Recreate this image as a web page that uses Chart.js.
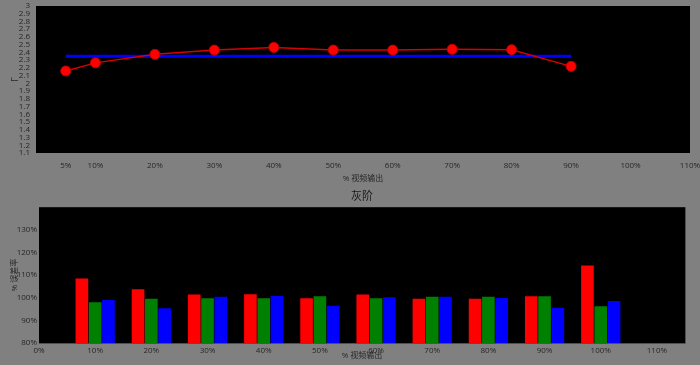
<!DOCTYPE html>
<html>
<head>
<meta charset="utf-8">
<script src="https://cdn.jsdelivr.net/npm/chart.js@4.4.0/dist/chart.umd.min.js"></script>
<style>
  body { margin: 0; background: #808080; width: 700px; height: 365px; overflow: hidden; }
  canvas { position: absolute; left: 0; }
</style>
</head>
<body>
<canvas id="gammaChart" width="700" height="188" style="top:0"></canvas>
<canvas id="grayChart" width="700" height="177" style="top:188px"></canvas>
<script>
// gamma curve (top)
const gammaLevels = [5, 10, 20, 30, 40, 50, 60, 70, 80, 90];
const gammaValues = [2.16, 2.265, 2.375, 2.43, 2.465, 2.43, 2.43, 2.44, 2.435, 2.22];
const gammaTarget = 2.35;
const gammaXTicks = [5, 10, 20, 30, 40, 50, 60, 70, 80, 90, 100, 110];

// grayscale RGB balance (bottom)
const grayLevels = [10, 20, 30, 40, 50, 60, 70, 80, 90, 100];
const redLevels = [108.5, 103.8, 101.4, 101.5, 99.8, 101.4, 99.5, 99.5, 100.7, 114.2];
const greenLevels = [98, 99.6, 99.8, 99.8, 100.7, 99.8, 100.4, 100.4, 100.7, 96.2];
const blueLevels = [99, 95.4, 100.4, 100.8, 96.5, 100.2, 100.4, 99.9, 95.6, 98.6];
const grayXTicks = [0, 10, 20, 30, 40, 50, 60, 70, 80, 90, 100, 110];

const FONT = "'Open Sans', 'Noto Sans CJK SC', sans-serif";
const TEXT = "#262626";

// black plot area + optional frame
const plotBackground = {
  id: "plotBackground",
  beforeDraw(chart) {
    const { ctx, chartArea: a } = chart;
    ctx.save();
    ctx.fillStyle = "#000";
    ctx.fillRect(a.left, a.top, a.width, a.height);
    ctx.restore();
  },
  afterDraw(chart, args, opts) {
    if (!opts.border) return;
    const { ctx, chartArea: a } = chart;
    ctx.save();
    ctx.strokeStyle = opts.border;
    ctx.lineWidth = 1;
    ctx.beginPath();
    ctx.moveTo(a.left, a.bottom + 0.5);
    ctx.lineTo(a.right + 0.5, a.bottom + 0.5);
    ctx.lineTo(a.right + 0.5, a.top);
    ctx.stroke();
    ctx.restore();
  },
};

const fixBox = (w, h) => (axis) => {
  if (w !== null) axis.width = w;
  if (h !== null) axis.height = h;
  axis.paddingTop = 0;
  axis.paddingBottom = 0;
  axis.paddingLeft = 0;
  axis.paddingRight = 0;
};

new Chart(document.getElementById("gammaChart"), {
  type: "line",
  data: {
    datasets: [
      {
        label: "Gamma",
        data: gammaLevels.map((x, i) => ({ x: x, y: gammaValues[i] })),
        borderColor: "#d80000",
        borderWidth: 1.5,
        pointBackgroundColor: "#ff0000",
        pointBorderColor: "#c00000",
        pointBorderWidth: 1,
        pointRadius: 5,
        tension: 0,
      },
      {
        label: "Target",
        data: [
          { x: gammaLevels[0], y: gammaTarget },
          { x: gammaLevels[gammaLevels.length - 1], y: gammaTarget },
        ],
        borderColor: "#0000ff",
        borderWidth: 3,
        pointRadius: 0,
      },
    ],
  },
  options: {
    responsive: false,
    animation: false,
    layout: { padding: { top: 3, right: 10, left: 6, bottom: 0 } },
    scales: {
      x: {
        type: "linear",
        min: 0,
        max: 110,
        grid: { display: false, drawTicks: false },
        border: { display: false },
        afterBuildTicks: (axis) => { axis.ticks = gammaXTicks.map((v) => ({ value: v })); },
        afterFit: fixBox(null, 35),
        ticks: {
          color: TEXT,
          padding: 8,
          maxRotation: 0,
          autoSkip: false,
          font: { family: FONT, size: 8 },
          callback: (v) => v + "%",
        },
        title: { display: true, text: "% 视频输出", color: TEXT, font: { family: FONT, size: 8 } },
      },
      y: {
        min: 1.1,
        max: 3,
        grid: { display: false, drawTicks: false },
        border: { display: false },
        afterFit: fixBox(30, null),
        ticks: {
          stepSize: 0.1,
          color: TEXT,
          padding: 6,
          autoSkip: false,
          font: { family: FONT, size: 8 },
          callback: (v) => String(+v.toFixed(1)),
        },
        title: { display: true, text: "Γ", color: TEXT, font: { family: FONT, size: 9 } },
      },
    },
    plugins: {
      legend: { display: false },
      tooltip: { enabled: false },
      plotBackground: {},
    },
  },
  plugins: [plotBackground],
});

const barSet = (label, values, color) => ({
  label: label,
  data: grayLevels.map((x, i) => ({ x: x, y: values[i] })),
  backgroundColor: color,
  base: 80,
  categoryPercentage: 0.71,
  barPercentage: 0.95,
});

new Chart(document.getElementById("grayChart"), {
  type: "bar",
  data: {
    datasets: [
      barSet("R", redLevels, "#ff0000"),
      barSet("G", greenLevels, "#008000"),
      barSet("B", blueLevels, "#0000ff"),
    ],
  },
  options: {
    responsive: false,
    animation: false,
    layout: { padding: { top: 0, right: 15, left: 6, bottom: 0 } },
    scales: {
      x: {
        type: "linear",
        offset: false,
        min: 0,
        max: 115,
        grid: { display: false, drawTicks: false },
        border: { display: false },
        afterBuildTicks: (axis) => { axis.ticks = grayXTicks.map((v) => ({ value: v })); },
        afterFit: fixBox(null, 22),
        ticks: {
          color: TEXT,
          padding: 3,
          maxRotation: 0,
          autoSkip: false,
          font: { family: FONT, size: 8 },
          callback: (v) => v + "%",
        },
        title: { display: true, text: "% 视频输出", color: TEXT, font: { family: FONT, size: 8 } },
      },
      y: {
        min: 80,
        max: 140,
        grid: { display: false, drawTicks: false },
        border: { display: false },
        afterFit: fixBox(33, null),
        ticks: {
          stepSize: 10,
          color: TEXT,
          padding: 2,
          font: { family: FONT, size: 8 },
          callback: (v) => (v >= 140 ? "" : v + "%"),
        },
        title: { display: true, text: "% 误差率", color: TEXT, font: { family: FONT, size: 8 } },
      },
    },
    plugins: {
      legend: { display: false },
      tooltip: { enabled: false },
      title: {
        display: true,
        fullSize: false,
        text: "灰阶",
        color: "#1a1a1a",
        font: { family: FONT, size: 11, weight: "normal" },
        padding: { top: 2, bottom: 4 },
      },
      plotBackground: { border: "#505050" },
    },
  },
  plugins: [plotBackground],
});
</script>
</body>
</html>
